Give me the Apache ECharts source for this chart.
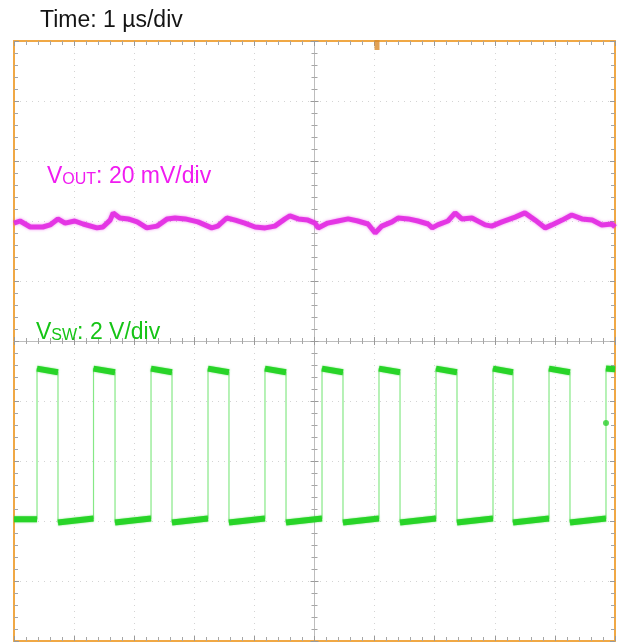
<!DOCTYPE html>
<html>
<head>
<meta charset="utf-8">
<script src="https://cdn.jsdelivr.net/npm/echarts@6/dist/echarts.min.js"></script>
<style>
  html, body { margin: 0; padding: 0; background: #ffffff; }
  #chart { width: 621px; height: 643px; }
</style>
</head>
<body>
<div id="chart"></div>
<script>
// V_OUT ripple trace: time (µs) and AC-coupled deviation (mV)
const voutTime = [0.00, 0.10, 0.27, 0.48, 0.60, 0.73, 0.85, 1.01, 1.15, 1.38, 1.48, 1.60, 1.65, 1.76, 1.90,
  2.05, 2.21, 2.38, 2.55, 2.68, 2.85, 3.06, 3.29, 3.39, 3.54, 3.68, 3.84, 4.01, 4.18, 4.34, 4.51, 4.59,
  4.73, 4.89, 5.01, 5.06, 5.09, 5.22, 5.39, 5.56, 5.72, 5.89, 6.01, 6.12, 6.29, 6.39, 6.56, 6.72, 6.89,
  6.96, 7.05, 7.22, 7.34, 7.45, 7.62, 7.84, 7.95, 8.12, 8.34, 8.50, 8.67, 8.84, 8.95, 9.12, 9.28, 9.45,
  9.62, 9.78, 9.95, 10.00];
const voutMv = [-0.7, 0.0, -2.0, -2.0, -1.3, 0.7, -0.7, 0.0, -1.0, -2.3, -2.0, 0.3, 2.7, 1.0, 0.7,
  -0.3, -2.3, -1.7, 0.7, 1.0, 0.7, -0.3, -2.3, -1.7, 1.0, 0.3, -0.7, -2.0, -2.3, -1.7, 0.7, 1.7,
  0.7, 0.3, -0.7, -2.3, -2.3, -0.7, 0.0, 0.7, 0.0, -1.0, -4.0, -1.7, -0.3, 1.0, 0.7, 0.0, -1.0,
  -2.3, -1.3, 0.0, 2.7, 0.7, 1.0, -1.3, -1.7, -0.3, 1.3, 2.7, 0.3, -2.3, -1.3, 0.3, 2.0, 0.7,
  0.3, -1.3, -1.0, -2.0];

// V_SW switch node: edge times (µs) and plateau levels (V)
const swRise = [0.383, 1.323, 2.280, 3.228, 4.176, 5.125, 6.073, 7.022, 7.970, 8.902, 9.850];
const swFall = [0.732, 1.681, 2.629, 3.577, 4.526, 5.474, 6.423, 7.371, 8.303, 9.251];
const swHigh = [5.08, 4.96];  // on-time plateau: start, end
const swLow = [-0.05, 0.08];  // off-time plateau: start, end
const swStartLevel = 0.06;

// trigger markers
const trigPoint = [9.85, 3.27];   // µs, V
const trigTime = 6.04;            // µs

// screen scales
const timeRange = [0, 10];        // 1 µs/div
const voutRange = [-140, 60];     // 20 mV/div
const swRange = [-4, 16];         // 2 V/div

const vout = voutTime.map((t, i) => [t, voutMv[i]]);

// full waveform (thin edges)
const swThin = [[timeRange[0], swStartLevel]];
swRise.forEach((r, i) => {
  swThin.push([r, i === 0 ? swStartLevel : swLow[1]]);
  swThin.push([r, swHigh[0]]);
  if (i < swFall.length) {
    swThin.push([swFall[i], swHigh[1]]);
    swThin.push([swFall[i], swLow[0]]);
  } else {
    swThin.push([timeRange[1], swHigh[0] - 0.02]);
  }
});

// plateaus (thick, noisy parts)
const swThick = [[timeRange[0], swStartLevel], [swRise[0], swStartLevel], '-'];
swRise.forEach((r, i) => {
  if (i < swFall.length) {
    swThick.push([r, swHigh[0]], [swFall[i], swHigh[1]], '-');
    swThick.push([swFall[i], swLow[0]], [swRise[i + 1], swLow[1]], '-');
  } else {
    swThick.push([r, swHigh[0]], [timeRange[1], swHigh[0] - 0.02], '-');
  }
});

const borderColor = '#f0a845';
const font = 'Liberation Sans, Arial, sans-serif';

function divAxis(pos, kind) {
  const isBorder = kind === 'border';
  return {
    type: 'value', min: -5, max: 5, interval: 1, position: pos,
    axisLabel: { show: false },
    axisLine: isBorder
      ? { show: true, onZero: false, lineStyle: { color: borderColor, width: 2 } }
      : { show: true, onZero: true, onZeroAxisIndex: 0, lineStyle: { color: '#bdbdbd', width: 1 } },
    axisTick: { show: true, inside: kind !== 'out', length: isBorder ? 5 : 4, lineStyle: { color: '#9a9a9a' } },
    minorTick: { show: true, splitNumber: 5, length: isBorder ? 4 : 3, lineStyle: { color: '#a6a6a6' } },
    splitLine: { show: false }
  };
}

const xAxes = [
  Object.assign(divAxis('bottom', 'border'), { splitLine: { show: true, lineStyle: { color: '#d4d4d4', type: [1, 5] } } }),
  divAxis('top', 'border'),
  divAxis('bottom', 'in'),
  divAxis('bottom', 'out'),
  { type: 'value', min: timeRange[0], max: timeRange[1], show: false }
];
const yAxes = [
  Object.assign(divAxis('left', 'border'), { splitLine: { show: true, lineStyle: { color: '#d4d4d4', type: [1, 5] } } }),
  divAxis('right', 'border'),
  divAxis('left', 'in'),
  divAxis('left', 'out'),
  { type: 'value', min: voutRange[0], max: voutRange[1], show: false },
  { type: 'value', min: swRange[0], max: swRange[1], show: false }
];

function tok(size, lh, color) {
  return { fontSize: size, lineHeight: lh, verticalAlign: 'bottom', color: color, fontFamily: font, fontWeight: 'normal' };
}

const chart = echarts.init(document.getElementById('chart'), null, { renderer: 'canvas' });
chart.setOption({
  animation: false,
  backgroundColor: '#ffffff',
  grid: { left: 14, top: 41, right: 6, bottom: 2 },
  title: [
    { text: 'Time: 1 µs/div', left: 40, top: 9, padding: 0,
      textStyle: { fontSize: 23, fontWeight: 'normal', color: '#141414', fontFamily: font } },
    { text: '{v|V}{s|OUT}{r|: 20 mV/div}', left: 47, top: 165, padding: 0,
      textStyle: { fontWeight: 'normal', rich: { v: tok(23, 23, '#f01cf0'), s: tok(16, 18, '#f01cf0'), r: tok(23, 23, '#f01cf0') } } },
    { text: '{v|V}{s|SW}{r|: 2 V/div}', left: 36, top: 321, padding: 0,
      textStyle: { fontWeight: 'normal', rich: { v: tok(23, 23, '#16c416'), s: tok(16, 18, '#16c416'), r: tok(23, 23, '#16c416') } } }
  ],
  xAxis: xAxes,
  yAxis: yAxes,
  series: [
    {
      name: 'VOUT', type: 'line', xAxisIndex: 4, yAxisIndex: 4, data: vout,
      showSymbol: false, silent: true, z: 5,
      lineStyle: { color: '#e22ae2', width: 5, opacity: 0.9, shadowBlur: 3, shadowColor: 'rgba(230,40,230,0.6)' }
    },
    {
      name: 'VSW edges', type: 'line', xAxisIndex: 4, yAxisIndex: 5, data: swThin,
      showSymbol: false, silent: true, z: 4,
      lineStyle: { color: '#86e886', width: 1.2 }
    },
    {
      name: 'VSW', type: 'line', xAxisIndex: 4, yAxisIndex: 5, data: swThick,
      showSymbol: false, silent: true, connectNulls: false, z: 5,
      lineStyle: { color: '#28d428', width: 6, shadowBlur: 2, shadowColor: 'rgba(40,210,40,0.6)' }
    },
    {
      name: 'trigger level', type: 'scatter', xAxisIndex: 4, yAxisIndex: 5, data: [trigPoint],
      symbol: 'circle', symbolSize: 6, silent: true, z: 6,
      itemStyle: { color: '#2ed02e' }
    },
    {
      name: 'trigger position', type: 'scatter', xAxisIndex: 4, yAxisIndex: 0, data: [[trigTime, 5]],
      symbol: 'rect', symbolSize: [5, 10], symbolOffset: [0, 4], silent: true, clip: false, z: 6,
      itemStyle: { color: '#d98a2a' }
    }
  ]
});
</script>
</body>
</html>
